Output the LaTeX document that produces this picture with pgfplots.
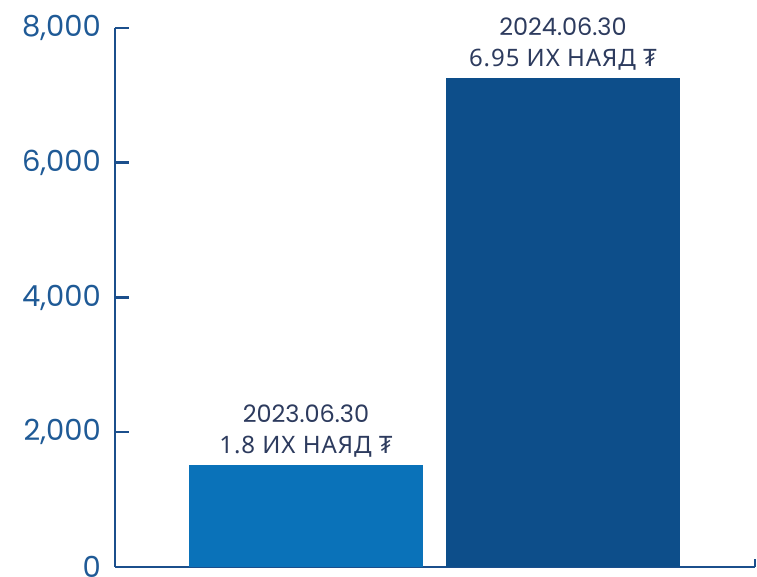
\documentclass[border=0pt]{standalone}
\usepackage{pgfplots}
\pgfplotsset{compat=1.18}
\usepackage{fontspec}
\setmainfont{Poppins}
\newfontfamily\cyrfont[LetterSpace=4]{Noto Sans}
\definecolor{axisblue}{HTML}{1B4F8C}
\definecolor{ticktext}{HTML}{1F5A96}
\definecolor{labeltext}{HTML}{2D3B5E}
\definecolor{barone}{HTML}{0A72B9}
\definecolor{bartwo}{HTML}{0D4E8A}
\begin{document}
\begin{tikzpicture}
\begin{axis}[
    at={(0pt,0pt)}, anchor=south west,
    scale only axis, width=640pt, height=539pt,
    xmin=-0.743, xmax=1.747, ymin=0, ymax=8000,
    enlargelimits=false, clip=false,
    axis lines=left,
    axis line style={axisblue, line width=2.5pt, -},
    tick style={axisblue, line width=2.5pt},
    tick align=inside,
    major tick length=14pt,
    ytick={0,2000,4000,6000,8000},
    xtick=\empty,
    extra x ticks={1.747},
    extra x tick labels={},
    extra x tick style={major tick length=8pt},
    yticklabel style={font=\fontsize{29}{29}\selectfont, text=ticktext, inner sep=0pt, xshift=-14pt},
    /pgf/number format/1000 sep={,},
    /pgf/number format/assume math mode=true,
    every node near coord/.append style={align=center, anchor=south, inner sep=0pt, yshift=7pt,
        font=\fontsize{24}{31}\selectfont, text=labeltext},
]
% bars: values
\addplot[ybar, bar shift=0pt, bar width=0.91, fill=barone, draw=none,
    nodes near coords={2023.06.30\\{\cyrfont 1.8 ИХ НАЯД ₮}}] coordinates {(0,1514)};
\addplot[ybar, bar shift=0pt, bar width=0.91, fill=bartwo, draw=none,
    nodes near coords={2024.06.30\\{\cyrfont 6.95 ИХ НАЯД ₮}}] coordinates {(1,7258)};
\end{axis}
\pgfresetboundingbox
\useasboundingbox (-115pt,-10pt) rectangle (642pt,567pt);
\end{tikzpicture}
\end{document}
